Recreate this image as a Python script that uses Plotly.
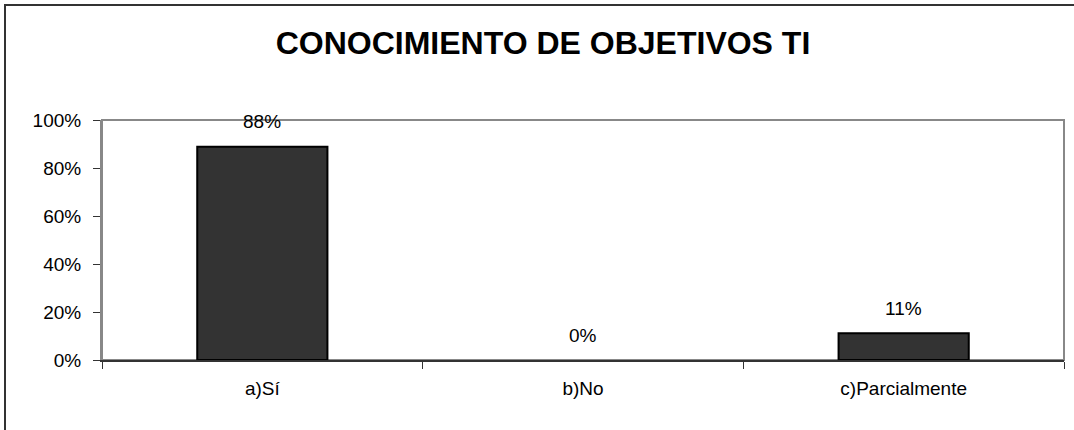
import plotly.graph_objects as go

categories = ["a)Sí", "b)No", "c)Parcialmente"]
values = [0.889, 0.0, 0.111]
value_labels = ["88%", "0%", "11%"]
y_ticks = [0, 0.2, 0.4, 0.6, 0.8, 1.0]
y_tick_labels = ["0%", "20%", "40%", "60%", "80%", "100%"]
title_text = "CONOCIMIENTO DE OBJETIVOS TI"

FONT = "Liberation Sans, Arial, sans-serif"

fig = go.Figure()
fig.add_trace(go.Bar(
    x=categories, y=values,
    marker=dict(color="#333333",
                line=dict(color="#000000", width=[2 if v > 0 else 0 for v in values])),
    hoverinfo="skip",
))

for c, v, t in zip(categories, values, value_labels):
    fig.add_annotation(x=c, y=v, text=t, showarrow=False, xref="x", yref="y",
                       yanchor="middle", yshift=25,
                       font=dict(family=FONT, size=19, color="#000000"))

fig.update_layout(
    width=1074, height=430,
    margin=dict(l=102, r=10, t=120, b=70),
    paper_bgcolor="white", plot_bgcolor="white",
    showlegend=False,
    bargap=0.594,
    title=dict(text="<b>" + title_text + "</b>", x=(543 - 102) / 962, xref="paper",
               xanchor="center", y=1 - 43 / 430, yanchor="middle",
               font=dict(family=FONT, size=32, color="#000000")),
    font=dict(family=FONT, size=19, color="#000000"),
)

fig.update_xaxes(
    showgrid=False, zeroline=False,
    showline=True, linecolor="#333333", linewidth=2,
    ticks="outside", tickson="boundaries", ticklen=7, tickcolor="#333333", tickwidth=1,
    ticklabelstandoff=10,
    tickfont=dict(family=FONT, size=19, color="#000000"),
)
fig.update_yaxes(
    range=[0, 1], showgrid=False, zeroline=False,
    tickvals=y_ticks, ticktext=y_tick_labels,
    showline=True, linecolor="#888888", linewidth=2,
    ticks="outside", ticklen=7, tickcolor="#333333", tickwidth=1,
    ticklabelstandoff=8,
    tickfont=dict(family=FONT, size=19, color="#000000"),
)

# plot-area frame (top/right)
fig.add_shape(type="rect", xref="paper", yref="paper", x0=0, x1=1, y0=0, y1=1,
              line=dict(color="#888888", width=2), layer="below")
# outer chart border
fig.add_shape(type="rect", xref="paper", yref="paper",
              x0=(5 - 102) / 962, x1=(1090 - 102) / 962,
              y0=(360 - 445) / 240, y1=(360 - 5) / 240,
              line=dict(color="#333333", width=2), layer="above")

fig.write_html("out.html", config={"displayModeBar": False},
               post_script="document.body.style.margin='0';document.body.style.padding='0';")
